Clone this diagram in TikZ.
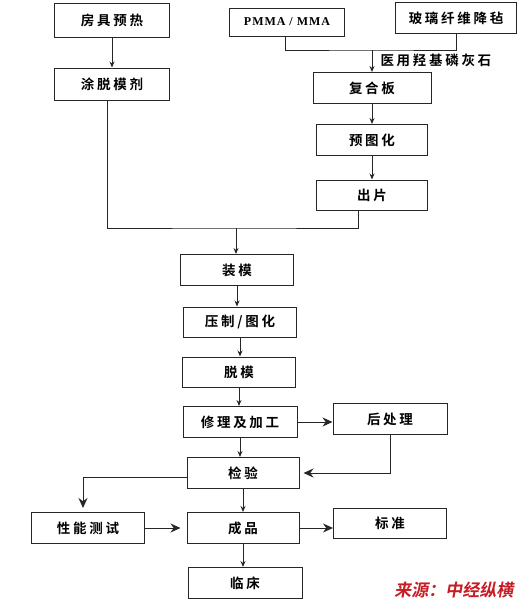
\documentclass[tikz,border=0pt]{standalone}
\usepackage{fontspec}
\setmainfont{Liberation Serif}
\newfontfamily\cjk[LetterSpace=20]{Noto Sans CJK SC Bold}
\newfontfamily\srcfont[FakeSlant=0.18]{Noto Sans CJK SC Bold}
\newfontfamily\latinbold[LetterSpace=8]{Liberation Serif Bold}
\usetikzlibrary{arrows.meta}
\definecolor{srcred}{RGB}{200,28,36}

\begin{document}
\begin{tikzpicture}[x=1pt, y=-1pt,
box/.style={draw=black!85, line width=1pt, minimum width=113pt, minimum height=31pt,
  inner sep=0pt, font=\cjk\fontsize{13.5}{15}\selectfont},
line/.style={draw=black!85, line width=1pt},
arr/.style={line, -{Stealth[length=6pt, width=5pt]}},
bigarr/.style={line, -{Stealth[length=10pt, width=9pt]}}]
\useasboundingbox (0,0) rectangle (520,605);
% left branch and material inputs
\node[box, minimum width=115pt, minimum height=34pt] (preheat) at (112,20) {房具预热};
\node[box, minimum width=115pt, minimum height=28pt, font=\latinbold\fontsize{12}{14}\selectfont] (pmma) at (287,22) {PMMA / MMA};
\node[box, minimum width=121pt] (glass) at (456,18) {玻璃纤维降毡};
\node[box, minimum width=115pt, minimum height=32pt] (coat) at (112,84) {涂脱模剂};
\node[box, minimum width=118pt] (laminate) at (372,88) {复合板};
\node[box, minimum width=111pt] (precure) at (372,140) {预图化};
\node[box, minimum width=111pt, minimum height=30pt] (cutout) at (372,195) {出片};
\node[anchor=west, font=\cjk\fontsize{13.5}{15}\selectfont] (hap) at (377,60) {医用羟基磷灰石};
% main line
\node[box] (mold) at (237,270) {装模};
\node[box, minimum height=30pt] (press) at (240,322) {压制/图化};
\node[box, minimum height=30pt] (demold) at (239,372) {脱模};
\node[box, minimum width=114pt] (trim) at (240,422) {修理及加工};
\node[box, minimum width=114pt] (post) at (390,419) {后处理};
\node[box, minimum width=112pt] (check) at (243,473) {检验};
\node[box] (perf) at (88,528) {性能测试};
\node[box, minimum width=112pt] (product) at (243,528) {成品};
\node[box, minimum height=30pt] (norm) at (390,523) {标准};
\node[box, minimum width=114pt] (clinic) at (245,583) {临床};
\node[anchor=east, text=srcred, font=\srcfont\fontsize{17}{19}\selectfont] (source) at (517,590) {来源：中经纵横};
\coordinate (mix) at (372,50);
\coordinate (merge) at (236,228);

\draw[arr] (preheat) -- (coat);
\draw[line] ([xshift=-2pt]pmma.south) |- (mix) -| (glass.south);
\draw[arr] (mix) -- (mix |- laminate.north);
\draw[arr] (laminate) -- (precure);
\draw[arr] (precure) -- (cutout);
\draw[line] ([xshift=-5pt]coat.south) |- (merge) -| ([xshift=-14pt]cutout.south);
\draw[arr] (merge) -- (merge |- mold.north);
\draw[arr] (mold) -- (mold |- press.north);
\draw[arr] (press) -- (press |- demold.north);
\draw[arr] (demold) -- (demold |- trim.north);
\draw[arr] (trim) -- (trim |- check.north);
\draw[bigarr] (trim.east) -- (trim.east -| post.west);
\draw[bigarr] (post.south) |- ([xshift=4pt]check.east);
\draw[bigarr] ([yshift=-4pt]check.west) -| ([xshift=-5pt, yshift=4pt]perf.north);
\draw[arr] (check) -- (check |- product.north);
\draw[bigarr] (perf.east) -- ([xshift=-6pt]product.west);
\draw[bigarr] (product.east) -- (product.east -| norm.west);
\draw[arr] (product) -- (product |- clinic.north);
\end{tikzpicture}
\end{document}
